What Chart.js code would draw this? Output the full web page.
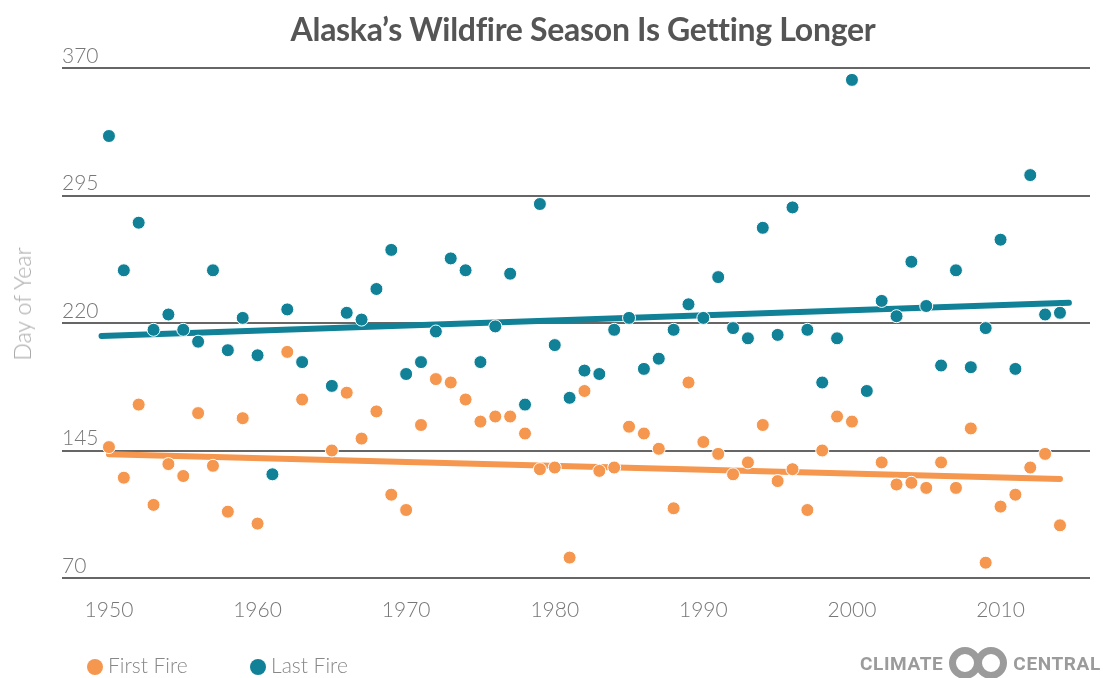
<!DOCTYPE html>
<html>
<head>
<meta charset="utf-8">
<script src="https://cdn.jsdelivr.net/npm/chart.js@4"></script>
<style>
  body { margin: 0; background: #fff; font-family: Lato, "Open Sans", sans-serif; }
  #wrap { position: relative; width: 1103px; height: 678px; overflow: hidden; }
  #title { position: absolute; top: 9px; left: 0; width: 1166px; text-align: center;
           font: 700 32px Lato, sans-serif; color: #555; letter-spacing: -0.3px; }
  #ytitle { position: absolute; left: 22px; top: 304px; transform: translate(-50%, -50%) rotate(-90deg);
            font: 300 23px Lato, sans-serif; color: #aaa; white-space: nowrap; }
  .leg { position: absolute; top: 652px; font: 300 21px Lato, sans-serif; color: #888; white-space: nowrap; }
  .leg i { display: inline-block; width: 16px; height: 16px; border-radius: 50%; vertical-align: -2px; margin-right: 5px; }
  #logo { position: absolute; left: 860px; top: 648px; height: 30px; display: flex; align-items: center;
          font: 700 19px Roboto, sans-serif; color: #9b9b9b; letter-spacing: 0.6px; }
  #logo .rings { position: relative; width: 64px; height: 32px; margin: 0 3px; }
  #logo .rings b { position: absolute; top: 0; width: 18px; height: 18px; border: 7px solid #9b9b9b; border-radius: 50%; }
</style>
</head>
<body>
<div id="wrap">
  <canvas id="chart" width="1103" height="678"></canvas>
  <div id="title">Alaska’s Wildfire Season Is Getting Longer</div>
  <div id="ytitle">Day of Year</div>
  <div class="leg" style="left:87px"><i style="background:#f5974e"></i>First Fire</div>
  <div class="leg" style="left:250px"><i style="background:#108197"></i>Last Fire</div>
  <div id="logo">CLIMATE<span class="rings"><b style="left:3px"></b><b style="left:29px"></b></span>CENTRAL</div>
</div>
<script>
const years = [1950,1951,1952,1953,1954,1955,1956,1957,1958,1959,
  1960,1961,1962,1963,1964,1965,1966,1967,1968,1969,
  1970,1971,1972,1973,1974,1975,1976,1977,1978,1979,
  1980,1981,1982,1983,1984,1985,1986,1987,1988,1989,
  1990,1991,1992,1993,1994,1995,1996,1997,1998,1999,
  2000,2001,2002,2003,2004,2005,2006,2007,2008,2009,
  2010,2011,2012,2013,2014];

const firstFire = [147,129,172,113,137,130,167,136,109,164,
  102,null,203,175,null,145,179,152,168,119,
  110,160,187,185,175,162,165,165,155,134,
  135,82,180,133,135,159,155,146,111,185,
  150,143,131,138,160,127,134,110,145,165,
  162,null,138,125,126,123,138,123,158,79,
  112,119,135,143,101];

const lastFire = [330,251,279,216,225,216,209,251,204,223,
  201,131,228,197,null,183,226,222,240,263,
  190,197,215,258,251,197,218,249,172,290,
  207,176,192,190,216,223,193,199,216,231,
  223,247,217,211,276,213,288,216,185,211,
  363,180,233,224,256,230,195,251,194,217,
  269,193,307,225,226];

// trend line end points
const firstTrendYears = [1950, 2014];
const firstTrend = [142.8, 128.3];
const lastTrendYears = [1949.5, 2014.6];
const lastTrend = [212.4, 231.9];

const xTicks = [1950,1960,1970,1980,1990,2000,2010];
const yTicks = [70,145,220,295,370];

const orange = "#f5974e";
const teal = "#108197";

function toPoints(xs, ys) {
  return xs.map((x, i) => ({ x: x, y: ys[i] })).filter(p => p.y !== null);
}

const tickFont = { family: "Lato", size: 21, weight: "300" };

new Chart(document.getElementById("chart"), {
  type: "scatter",
  data: {
    datasets: [
      { label: "Last Fire", data: toPoints(years, lastFire), backgroundColor: teal, borderColor: "#fff", borderWidth: 1, pointRadius: 6.5 },
      { label: "First Fire", data: toPoints(years, firstFire), backgroundColor: orange, borderColor: "#fff", borderWidth: 1, pointRadius: 6.5 },
      { type: "line", label: "Last trend", data: toPoints(lastTrendYears, lastTrend), borderColor: teal, borderWidth: 6, borderCapStyle: "round", pointRadius: 0 },
      { type: "line", label: "First trend", data: toPoints(firstTrendYears, firstTrend), borderColor: orange, borderWidth: 6, borderCapStyle: "round", pointRadius: 0 }
    ]
  },
  options: {
    responsive: false,
    animation: false,
    layout: { padding: { top: 68, right: 13, left: 0, bottom: 0 } },
    plugins: { legend: { display: false }, tooltip: { enabled: false }, title: { display: false } },
    scales: {
      x: {
        type: "linear", min: 1946.84, max: 2016.02,
        grid: { display: false, drawTicks: false },
        border: { display: false },
        afterBuildTicks: s => { s.ticks = xTicks.map(v => ({ value: v })); },
        afterFit: s => { s.height = 100; },
        ticks: { font: tickFont, color: "#777", padding: 20, maxRotation: 0, autoSkip: false, callback: v => String(v) }
      },
      y: {
        min: 70, max: 370,
        afterBuildTicks: s => { s.ticks = yTicks.map(v => ({ value: v })); },
        afterFit: s => { s.width = 62; },
        grid: { color: "#666", lineWidth: 2, drawTicks: false },
        border: { display: false },
        ticks: { mirror: true, padding: 0, labelOffset: -12, font: tickFont, color: "#777" }
      }
    }
  }
});
</script>
</body>
</html>
